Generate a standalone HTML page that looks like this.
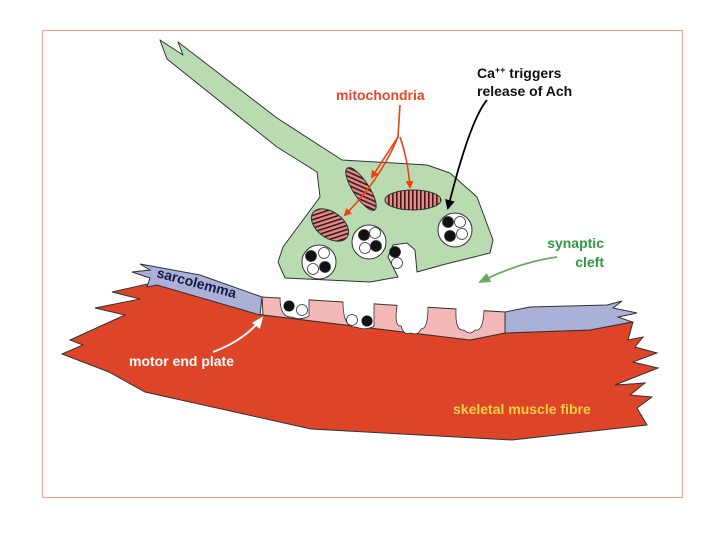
<!DOCTYPE html>
<html><head><meta charset="utf-8"><style>
html,body{margin:0;padding:0;background:#fff;}
svg{display:block;}
text{font-family:"Liberation Sans","DejaVu Sans",sans-serif;font-weight:bold;}
</style></head><body>
<svg width="720" height="540" viewBox="0 0 720 540" xmlns="http://www.w3.org/2000/svg">
<defs>
<pattern id="s0" width="4" height="4" patternUnits="userSpaceOnUse"><rect width="4" height="4" fill="#e08a8a"/><rect width="1.6" height="4" fill="#3a1a1a"/></pattern>
<pattern id="s1" width="4" height="4" patternUnits="userSpaceOnUse" patternTransform="rotate(57)"><rect width="4" height="4" fill="#e08a8a"/><rect width="1.6" height="4" fill="#3a1a1a"/></pattern>
<pattern id="s2" width="4" height="4" patternUnits="userSpaceOnUse" patternTransform="rotate(36)"><rect width="4" height="4" fill="#e08a8a"/><rect width="1.6" height="4" fill="#3a1a1a"/></pattern>
<marker id="ar" markerWidth="8" markerHeight="8" refX="6" refY="4" orient="auto" markerUnits="userSpaceOnUse"><path d="M0,0 L8,4 L0,8 Z" fill="#f04010"/></marker>
<marker id="ab" markerWidth="10" markerHeight="10" refX="8" refY="5" orient="auto" markerUnits="userSpaceOnUse"><path d="M0,0 L10,5 L0,10 Z" fill="#000"/></marker>
<marker id="ag" markerWidth="12" markerHeight="10" refX="10" refY="5" orient="auto" markerUnits="userSpaceOnUse"><path d="M0,0 L12,5 L0,10 Z" fill="#6aaa60"/></marker>
<marker id="aw" markerWidth="12" markerHeight="10" refX="10" refY="5" orient="auto" markerUnits="userSpaceOnUse"><path d="M0,0 L12,5 L0,10 Z" fill="#fff"/></marker>
</defs>
<rect x="42.5" y="30.5" width="640" height="467" fill="#fff" stroke="#e0a898" stroke-width="1.2"/>

<!-- muscle -->
<path d="M112,292 L152,283 L263,315 L470,340 L505,333 L590,330 L633,322 L628,340 L643,337 L635,347 L657,353 L633,362 L658,368 L615,385 L645,383 L630,395 L652,397 L637,408 L647,425 L512,440 L311,429 L145,392 L109,372 L62,354 L83,345 L70,340 L125,315 L95,308 L140,299 Z" fill="#dd4428" stroke="#333" stroke-width="1"/>
<!-- sarcolemma left -->
<path d="M132,272 L150,270 L140,264 L200,275 L262,297 L260,315 L157,285 L147,287 L150,278 Z" fill="#aab0d8" stroke="#333" stroke-width="1"/>
<!-- pink end plate -->
<path d="M262,297 L505,312 L505,333 L470,340 L263,315 Z" fill="#f4b8b8" stroke="#333" stroke-width="1"/>
<!-- right sarcolemma -->
<path d="M505,312 L530,307 L607,305 L622,301 L613,308 L637,313 L618,317 L632,322 L590,330 L505,333 Z" fill="#aab0d8" stroke="#333" stroke-width="1"/>
<!-- notches in end plate (top open) -->
<g fill="#fff" stroke="#333" stroke-width="0.8">
<path d="M280,297.5 Q280,318 292,317 Q300,321 309,316 L309,299.4"/>
<path d="M343,302.3 Q343,328 356,327 Q366,331 374,326 L374,304.2"/>
<path d="M397,305.6 Q394,327 401,326 Q404,336 411,333 Q418,336 421,329 Q428,329 428,307.5"/>
<path d="M456,309.3 Q455,332 464,330 Q470,336 475,330 Q483,332 484,311"/>
</g>
<g fill="#fff">
<path d="M280.5,296 L308.5,297.8 L308.5,301 L280.5,299 Z"/>
<path d="M343.5,301 L373.5,302.8 L373.5,306 L343.5,304 Z"/>
<path d="M397.5,304.3 L427.5,306.2 L427.5,309.5 L397.5,307.5 Z"/>
<path d="M456.5,308 L483.5,309.7 L483.5,313 L456.5,311.3 Z"/>
</g>
<circle cx="289" cy="306" r="5.5" fill="#111"/>
<circle cx="302" cy="310" r="5.5" fill="#fff" stroke="#333" stroke-width="0.8"/>
<circle cx="352" cy="320" r="5.5" fill="#fff" stroke="#333" stroke-width="0.8"/>
<circle cx="367" cy="321" r="5.5" fill="#111"/>

<!-- neuron -->
<path d="M178,42 L277,118 L342,160 L427,165 L450,173 L477,197 L493,240 L490,253 L442,265 L417,272 L415,250 L407,243 L393,245 L388,257 L398,277 L370,282 L285,278 L278,262 L283,247 L320,197 L317,172 L277,147 L167,59 L160,40 L183,55 Z" fill="#b8dcb0" stroke="#333" stroke-width="1" stroke-linejoin="round"/>

<!-- mitochondria -->
<ellipse cx="361" cy="189" rx="25" ry="8" transform="rotate(57 361 189)" fill="url(#s1)" stroke="#333" stroke-width="1"/>
<ellipse cx="413" cy="200" rx="28" ry="10" fill="url(#s0)" stroke="#333" stroke-width="1"/>
<ellipse cx="330" cy="225" rx="21" ry="13" transform="rotate(36 330 225)" fill="url(#s2)" stroke="#333" stroke-width="1"/>

<!-- vesicles -->
<g stroke="#333" stroke-width="0.8">
<circle cx="319" cy="262" r="17" fill="#fff" stroke-width="1"/>
<circle cx="311" cy="256" r="5.5" fill="#111"/><circle cx="324" cy="253" r="5.5" fill="#fff"/>
<circle cx="313" cy="269" r="5.5" fill="#fff"/><circle cx="325" cy="267" r="5.5" fill="#111"/>
<circle cx="369" cy="242" r="17" fill="#fff" stroke-width="1"/>
<circle cx="364" cy="235" r="5.5" fill="#111"/><circle cx="375" cy="233" r="5.5" fill="#fff"/>
<circle cx="365" cy="248" r="5.5" fill="#fff"/><circle cx="376" cy="246" r="5.5" fill="#111"/>
<circle cx="455" cy="230" r="17" fill="#fff" stroke-width="1"/>
<circle cx="448" cy="222" r="5.5" fill="#111"/><circle cx="460" cy="222" r="5.5" fill="#fff"/>
<circle cx="450" cy="236" r="5.5" fill="#111"/><circle cx="462" cy="234" r="5.5" fill="#fff"/>
<circle cx="395" cy="252" r="5.5" fill="#111"/><circle cx="397" cy="263" r="5.5" fill="#fff"/>
</g>

<!-- arrows -->
<path d="M400,105 L398,137 L372,177" fill="none" stroke="#f04010" stroke-width="1.6" marker-end="url(#ar)"/>
<path d="M398,137 Q380,180 345,215" fill="none" stroke="#f04010" stroke-width="1.6" marker-end="url(#ar)"/>
<path d="M400,137 Q408,160 410,187" fill="none" stroke="#f04010" stroke-width="1.6" marker-end="url(#ar)"/>
<path d="M487,100 Q470,120 448,208" fill="none" stroke="#000" stroke-width="1.8" marker-end="url(#ab)"/>
<path d="M557,257 Q520,262 480,282" fill="none" stroke="#6aaa60" stroke-width="1.8" marker-end="url(#ag)"/>
<path d="M213,352 Q245,340 262,318" fill="none" stroke="#fff" stroke-width="2" marker-end="url(#aw)"/>

<!-- labels -->
<text x="336" y="100" font-size="14" fill="#ee4422">mitochondria</text>
<text x="477" y="78" font-size="14" fill="#111">Ca<tspan font-size="9" dy="-5">++</tspan><tspan dy="5"> triggers</tspan></text>
<text x="477" y="96" font-size="14" fill="#111">release of Ach</text>
<text x="604" y="248" font-size="14" fill="#2e9a40" text-anchor="end">synaptic</text>
<text x="604" y="267" font-size="14" fill="#2e9a40" text-anchor="end">cleft</text>
<text x="156" y="277" font-size="14" fill="#151a40" transform="rotate(15 156 277)">sarcolemma</text>
<text x="129" y="366" font-size="14" fill="#fff">motor end plate</text>
<text x="453" y="414" font-size="14" fill="#ffd040">skeletal muscle fibre</text>
</svg>
</body></html>
